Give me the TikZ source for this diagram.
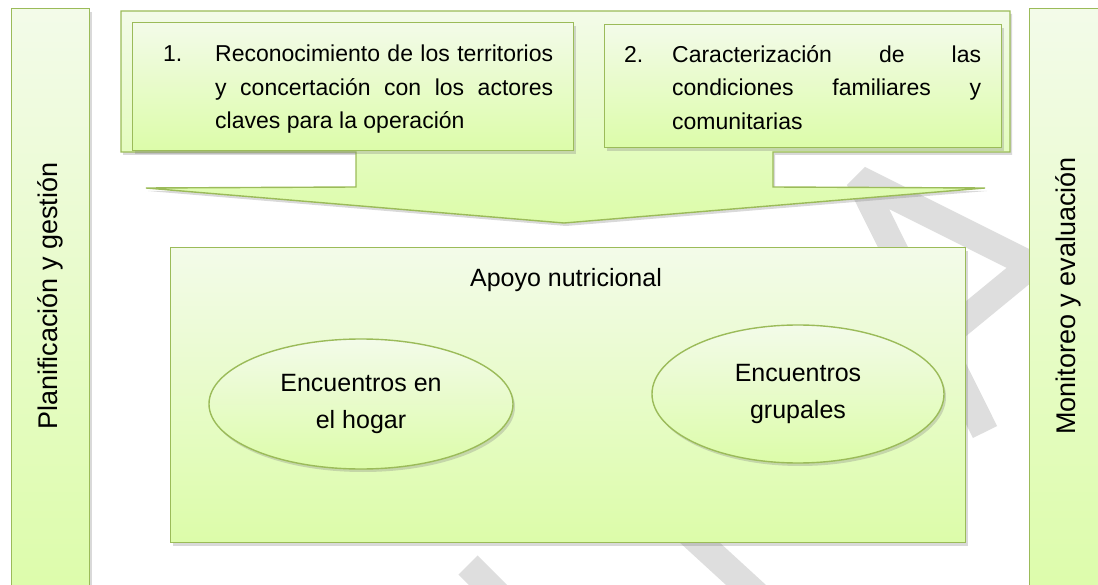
\documentclass[tikz,border=0pt]{standalone}
\usepackage{fontspec}
\setmainfont{Liberation Sans}
\usetikzlibrary{shapes.geometric,shadows}
\definecolor{leaf}{HTML}{9BBB59}
\definecolor{leaftop}{HTML}{F3FBE9}
\definecolor{leafbot}{HTML}{DCFCA9}
\definecolor{wmark}{HTML}{DEDEDE}
\hyphenpenalty=10000

\begin{document}
\begin{tikzpicture}[x=1pt,y=-1pt,
    every node/.style={inner sep=0pt},
    leafy/.style={draw=leaf,line width=1.4pt,top color=leaftop,bottom color=leafbot,
                  drop shadow={opacity=0.3,shadow xshift=2pt,shadow yshift=-3pt}},
    steptxt/.style={text width=#1,align=justify,font=\fontsize{23}{33.5}\selectfont},
    bigtxt/.style={align=center,font=\fontsize{25}{37}\selectfont},
    sidetxt/.style={rotate=90,font=\fontsize{27}{32}\selectfont},
    wm/.style={draw=wmark,line width=27pt}]
  \useasboundingbox (0,0) rectangle (1098,585);
  % watermark strokes, behind everything else
  \draw[wm,line join=bevel] (985,432) -- (859,179) -- (1045,272);
  \draw[wm] (1035,262) -- (940,340);
  \draw[wm] (468,565) -- (530,627);
  \draw[wm] (650,497) -- (770,607);
  % side bars run off the bottom of the page
  \node[leafy,minimum width=78,minimum height=600,anchor=north west] (plan) at (11,8) {};
  \node[leafy,minimum width=78,minimum height=600,anchor=north west] (moni) at (1029,8) {};
  \node[sidetxt] (plantxt) at (50,296) {Planificación y gestión};
  \node[sidetxt] (monitxt) at (1068,296) {Monitoreo y evaluación};
  % the two steps sit on one arrow pointing down
  \path[leafy] (121,11) -- (1010,11) -- (1010,152) -- (773,152) -- (773,187)
    -- (985,188) -- (564,223) -- (146,188) -- (356,187) -- (356,152) -- (121,152) -- cycle;
  \node[leafy,minimum width=441,minimum height=128,anchor=north west] (paso1) at (132,22) {};
  \node[leafy,minimum width=397,minimum height=123,anchor=north west] (paso2) at (604,24) {};
  \node[steptxt=390pt,anchor=north west] (paso1txt) at (163,45)
    {\hangindent=52pt\hangafter=1\noindent\makebox[52pt][l]{1.}Reconocimiento de los territorios\linebreak
     y concertación con los actores\linebreak claves para la operación\par};
  \node[steptxt=357pt,anchor=north west] (paso2txt) at (624,45)
    {\hangindent=48pt\hangafter=1\noindent\makebox[48pt][l]{2.}Caracterización de las\linebreak
     condiciones familiares y\linebreak comunitarias\par};
  % main box with its two kinds of meetings
  \node[leafy,minimum width=795,minimum height=295,anchor=north west] (apoyo) at (170,247) {};
  \node[bigtxt,anchor=base] (apoyotxt) at (566,287) {Apoyo nutricional};
  \node[leafy,ellipse,minimum width=304,minimum height=130,bigtxt] (hogar) at (361,404) {Encuentros en\\el hogar};
  \node[leafy,ellipse,minimum width=292,minimum height=138,bigtxt] (grupal) at (798,394) {Encuentros\\grupales};
\end{tikzpicture}
\end{document}
